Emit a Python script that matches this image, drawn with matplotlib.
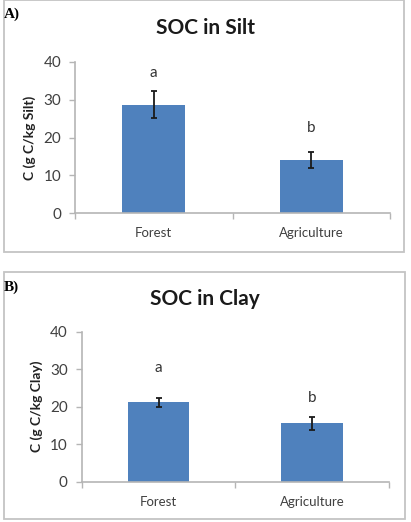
import matplotlib
matplotlib.use('Agg')
import matplotlib.pyplot as plt
from matplotlib.patches import Rectangle

plt.rcParams['font.family'] = ['Lato', 'DejaVu Sans']

# ---- data ----
categories = ['Forest', 'Agriculture']
silt_values = [28.7, 14.1]
silt_err = [3.5, 2.2]
silt_letters = ['a', 'b']
silt_letter_y = [36.9, 22.4]

clay_values = [21.2, 15.6]
clay_err = [1.2, 1.7]
clay_letters = ['a', 'b']
clay_letter_y = [30.2, 22.2]

yticks = [0, 10, 20, 30, 40]

W, H = 411, 522
fig = plt.figure(figsize=(W / 100, H / 100), dpi=100)
fig.patch.set_facecolor('white')

BAR = '#4F81BD'
AXC = '#b5b5b5'
TXT = '#404040'


def px_box(x0, y0, x1, y1):
    # rectangle given in pixel coords (top-left origin)
    fig.patches.append(Rectangle((x0 / W, 1 - y1 / H), (x1 - x0) / W, (y1 - y0) / H,
                                 transform=fig.transFigure, fill=False,
                                 edgecolor='#c4c4c4', linewidth=1.3))


def panel(rect, values, err, letters, letter_y, title, ylabel, tag, title_y, tag_y):
    ax = fig.add_axes(rect)
    x = range(len(categories))
    ax.bar(x, values, width=0.4, color=BAR, edgecolor='none', zorder=2)
    ax.errorbar(x, values, yerr=err, fmt='none', ecolor='#1a1a1a',
                elinewidth=1.3, capsize=2.5, capthick=1.3, zorder=3)
    for xi, lab, ly in zip(x, letters, letter_y):
        ax.text(xi, ly, lab, ha='center', va='center', fontsize=11, color='#333333')
    ax.set_xlim(-0.5, len(categories) - 0.5)
    ax.set_ylim(0, 40)
    ax.set_yticks(yticks)
    ax.set_xticks([-0.5, 0.5, 1.5])
    ax.set_xticklabels([])
    ax.set_xticks(list(x), minor=True)
    ax.set_xticklabels(categories, minor=True)
    ax.tick_params(axis='x', which='major', direction='out', length=4, color=AXC, width=1)
    ax.tick_params(axis='x', which='minor', length=0, pad=10, labelsize=9.5, labelcolor=TXT)
    ax.tick_params(axis='y', direction='out', length=4, color=AXC, width=1,
                   pad=6, labelsize=11, labelcolor=TXT)
    for s in ['top', 'right']:
        ax.spines[s].set_visible(False)
    for s in ['left', 'bottom']:
        ax.spines[s].set_color(AXC)
        ax.spines[s].set_linewidth(1.2)
    ax.set_ylabel(ylabel, fontsize=10, fontweight='bold', color='#222222', labelpad=5)
    fig.text(205 / W, 1 - title_y / H, title, ha='center', va='center',
             fontsize=15, fontweight='bold', color='#1a1a1a')
    fig.text(4 / W, 1 - tag_y / H, tag, ha='left', va='center', fontsize=11,
             fontweight='bold', family='Liberation Serif')
    return ax


px_box(4, 0.5, 404, 251.5)
px_box(4, 272, 405, 519)

panel([75 / W, 1 - 213.3 / H, 315 / W, 151.6 / H], silt_values, silt_err,
      silt_letters, silt_letter_y, 'SOC in Silt', 'C (g C/kg Silt)', 'A)', 28, 14)
panel([81.7 / W, 1 - 481.7 / H, 307.3 / W, 150 / H], clay_values, clay_err,
      clay_letters, clay_letter_y, 'SOC in Clay', 'C (g C/kg Clay)', 'B)', 299, 287)

fig.savefig('out.png', dpi=100, facecolor='white')
